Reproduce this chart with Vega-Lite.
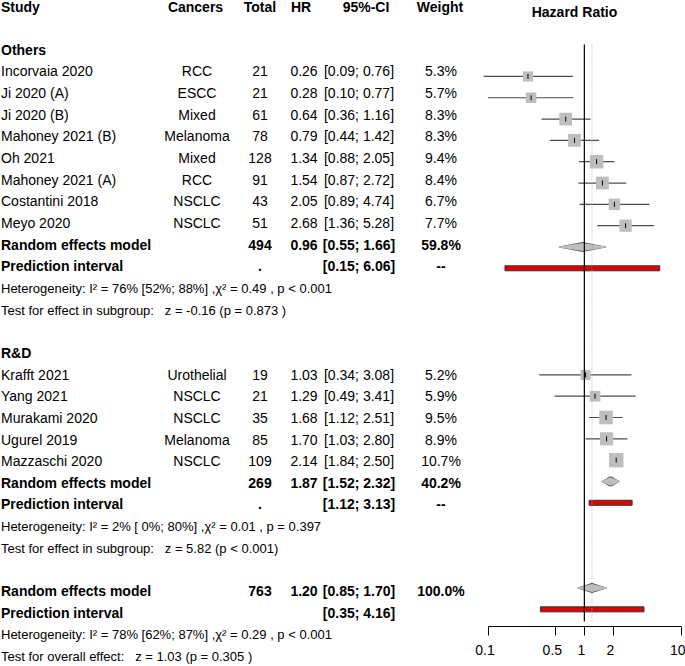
{
  "$schema": "https://vega.github.io/schema/vega-lite/v6.json",
  "padding": 0,
  "background": "white",
  "spacing": 0,
  "bounds": "flush",
  "config": {
    "view": {"stroke": null},
    "font": "Liberation Sans",
    "text": {"font": "Liberation Sans", "fontSize": 14, "color": "black"}
  },
  "datasets": {
    "table": [
      {"row": 0, "kind": "header", "study": "Study", "cancers": "Cancers", "total": "Total", "hr": "HR", "ci": "95%-CI", "weight": "Weight", "plot": "Hazard Ratio"},
      {"row": 2, "kind": "group", "study": "Others"},
      {"row": 3, "kind": "study", "study": "Incorvaia 2020", "cancers": "RCC", "total": "21", "hr": "0.26", "ci": "[0.09; 0.76]", "weight": "5.3%", "est": 0.26, "lower": 0.09, "upper": 0.76, "w": 5.3},
      {"row": 4, "kind": "study", "study": "Ji 2020 (A)", "cancers": "ESCC", "total": "21", "hr": "0.28", "ci": "[0.10; 0.77]", "weight": "5.7%", "est": 0.28, "lower": 0.10, "upper": 0.77, "w": 5.7},
      {"row": 5, "kind": "study", "study": "Ji 2020 (B)", "cancers": "Mixed", "total": "61", "hr": "0.64", "ci": "[0.36; 1.16]", "weight": "8.3%", "est": 0.64, "lower": 0.36, "upper": 1.16, "w": 8.3},
      {"row": 6, "kind": "study", "study": "Mahoney 2021 (B)", "cancers": "Melanoma", "total": "78", "hr": "0.79", "ci": "[0.44; 1.42]", "weight": "8.3%", "est": 0.79, "lower": 0.44, "upper": 1.42, "w": 8.3},
      {"row": 7, "kind": "study", "study": "Oh 2021", "cancers": "Mixed", "total": "128", "hr": "1.34", "ci": "[0.88; 2.05]", "weight": "9.4%", "est": 1.34, "lower": 0.88, "upper": 2.05, "w": 9.4},
      {"row": 8, "kind": "study", "study": "Mahoney 2021 (A)", "cancers": "RCC", "total": "91", "hr": "1.54", "ci": "[0.87; 2.72]", "weight": "8.4%", "est": 1.54, "lower": 0.87, "upper": 2.72, "w": 8.4},
      {"row": 9, "kind": "study", "study": "Costantini 2018", "cancers": "NSCLC", "total": "43", "hr": "2.05", "ci": "[0.89; 4.74]", "weight": "6.7%", "est": 2.05, "lower": 0.89, "upper": 4.74, "w": 6.7},
      {"row": 10, "kind": "study", "study": "Meyo 2020", "cancers": "NSCLC", "total": "51", "hr": "2.68", "ci": "[1.36; 5.28]", "weight": "7.7%", "est": 2.68, "lower": 1.36, "upper": 5.28, "w": 7.7},
      {"row": 11, "kind": "summary", "study": "Random effects model", "total": "494", "hr": "0.96", "ci": "[0.55; 1.66]", "weight": "59.8%", "est": 0.96, "lower": 0.55, "upper": 1.66},
      {"row": 12, "kind": "pi", "study": "Prediction interval", "total": ".", "ci": "[0.15; 6.06]", "weight": "--", "lower": 0.15, "upper": 6.06},
      {"row": 13, "kind": "het", "study": "Heterogeneity:  I² = 76% [52%; 88%] ,χ² = 0.49 , p < 0.001"},
      {"row": 14, "kind": "het", "study": "Test for effect in subgroup:\u00a0\u00a0\u00a0z = -0.16 (p = 0.873\u00a0)"},
      {"row": 16, "kind": "group", "study": "R&D"},
      {"row": 17, "kind": "study", "study": "Krafft 2021", "cancers": "Urothelial", "total": "19", "hr": "1.03", "ci": "[0.34; 3.08]", "weight": "5.2%", "est": 1.03, "lower": 0.34, "upper": 3.08, "w": 5.2},
      {"row": 18, "kind": "study", "study": "Yang 2021", "cancers": "NSCLC", "total": "21", "hr": "1.29", "ci": "[0.49; 3.41]", "weight": "5.9%", "est": 1.29, "lower": 0.49, "upper": 3.41, "w": 5.9},
      {"row": 19, "kind": "study", "study": "Murakami 2020", "cancers": "NSCLC", "total": "35", "hr": "1.68", "ci": "[1.12; 2.51]", "weight": "9.5%", "est": 1.68, "lower": 1.12, "upper": 2.51, "w": 9.5},
      {"row": 20, "kind": "study", "study": "Ugurel 2019", "cancers": "Melanoma", "total": "85", "hr": "1.70", "ci": "[1.03; 2.80]", "weight": "8.9%", "est": 1.70, "lower": 1.03, "upper": 2.80, "w": 8.9},
      {"row": 21, "kind": "study", "study": "Mazzaschi 2020", "cancers": "NSCLC", "total": "109", "hr": "2.14", "ci": "[1.84; 2.50]", "weight": "10.7%", "est": 2.14, "lower": 1.84, "upper": 2.50, "w": 10.7},
      {"row": 22, "kind": "summary", "study": "Random effects model", "total": "269", "hr": "1.87", "ci": "[1.52; 2.32]", "weight": "40.2%", "est": 1.87, "lower": 1.52, "upper": 2.32},
      {"row": 23, "kind": "pi", "study": "Prediction interval", "total": ".", "ci": "[1.12; 3.13]", "weight": "--", "lower": 1.12, "upper": 3.13},
      {"row": 24, "kind": "het", "study": "Heterogeneity:  I² = 2% [ 0%; 80%] ,χ² = 0.01 , p = 0.397"},
      {"row": 25, "kind": "het", "study": "Test for effect in subgroup:\u00a0\u00a0\u00a0z = 5.82 (p < 0.001)"},
      {"row": 27, "kind": "summary", "study": "Random effects model", "total": "763", "hr": "1.20", "ci": "[0.85; 1.70]", "weight": "100.0%", "est": 1.20, "lower": 0.85, "upper": 1.70},
      {"row": 28, "kind": "pi", "study": "Prediction interval", "ci": "[0.35; 4.16]", "lower": 0.35, "upper": 4.16},
      {"row": 29, "kind": "het", "study": "Heterogeneity:  I² = 78% [62%; 87%] ,χ² = 0.29 , p < 0.001"},
      {"row": 30, "kind": "het", "study": "Test for overall effect:\u00a0\u00a0\u00a0z = 1.03 (p = 0.305\u00a0)"}
    ]
  },
  "data": {"name": "table"},
  "hconcat": [
    {
      "width": 160, "height": 666,
      "encoding": {"y": {"field": "row", "type": "quantitative", "scale": {"domain": [0, 30], "range": [7.5, 657], "nice": false, "zero": false}, "axis": null}},
      "layer": [
        {"transform": [{"filter": "datum.kind === 'study'"}], "mark": {"type": "text", "align": "left", "dx": 1}, "encoding": {"x": {"value": 0}, "text": {"field": "study"}}},
        {"transform": [{"filter": "datum.kind === 'header' || datum.kind === 'group' || datum.kind === 'summary' || datum.kind === 'pi'"}], "mark": {"type": "text", "align": "left", "dx": 1, "fontWeight": "bold"}, "encoding": {"x": {"value": 0}, "text": {"field": "study"}}},
        {"transform": [{"filter": "datum.kind === 'het'"}], "mark": {"type": "text", "align": "left", "dx": 1, "fontSize": 13}, "encoding": {"x": {"value": 0}, "text": {"field": "study"}}}
      ]
    },
    {
      "width": 74, "height": 666,
      "encoding": {"y": {"field": "row", "type": "quantitative", "scale": {"domain": [0, 30], "range": [7.5, 657], "nice": false, "zero": false}, "axis": null}, "text": {"field": "cancers"}},
      "layer": [
        {"transform": [{"filter": "datum.kind === 'study' && isValid(datum.cancers)"}], "mark": {"type": "text"}},
        {"transform": [{"filter": "datum.kind === 'header'"}], "mark": {"type": "text", "fontWeight": "bold", "dx": -1.5}}
      ]
    },
    {
      "width": 52, "height": 666,
      "encoding": {"y": {"field": "row", "type": "quantitative", "scale": {"domain": [0, 30], "range": [7.5, 657], "nice": false, "zero": false}, "axis": null}, "text": {"field": "total"}},
      "layer": [
        {"transform": [{"filter": "datum.kind === 'study' && isValid(datum.total)"}], "mark": {"type": "text"}},
        {"transform": [{"filter": "(datum.kind === 'summary' || datum.kind === 'pi') && isValid(datum.total)"}], "mark": {"type": "text", "fontWeight": "bold"}},
        {"transform": [{"filter": "datum.kind === 'header'"}], "mark": {"type": "text", "fontWeight": "bold"}}
      ]
    },
    {
      "width": 36, "height": 666,
      "encoding": {"y": {"field": "row", "type": "quantitative", "scale": {"domain": [0, 30], "range": [7.5, 657], "nice": false, "zero": false}, "axis": null}, "text": {"field": "hr"}},
      "layer": [
        {"transform": [{"filter": "datum.kind === 'study' && isValid(datum.hr)"}], "mark": {"type": "text"}},
        {"transform": [{"filter": "(datum.kind === 'summary' || datum.kind === 'pi') && isValid(datum.hr)"}], "mark": {"type": "text", "fontWeight": "bold"}},
        {"transform": [{"filter": "datum.kind === 'header'"}], "mark": {"type": "text", "fontWeight": "bold", "dx": -3}}
      ]
    },
    {
      "width": 74, "height": 666,
      "encoding": {"y": {"field": "row", "type": "quantitative", "scale": {"domain": [0, 30], "range": [7.5, 657], "nice": false, "zero": false}, "axis": null}, "text": {"field": "ci"}},
      "layer": [
        {"transform": [{"filter": "datum.kind === 'study' && isValid(datum.ci)"}], "mark": {"type": "text"}},
        {"transform": [{"filter": "(datum.kind === 'summary' || datum.kind === 'pi') && isValid(datum.ci)"}], "mark": {"type": "text", "fontWeight": "bold"}},
        {"transform": [{"filter": "datum.kind === 'header'"}], "mark": {"type": "text", "fontWeight": "bold", "dx": 7}}
      ]
    },
    {
      "width": 90, "height": 666,
      "encoding": {"y": {"field": "row", "type": "quantitative", "scale": {"domain": [0, 30], "range": [7.5, 657], "nice": false, "zero": false}, "axis": null}, "text": {"field": "weight"}},
      "layer": [
        {"transform": [{"filter": "datum.kind === 'study' && isValid(datum.weight)"}], "mark": {"type": "text"}},
        {"transform": [{"filter": "(datum.kind === 'summary' || datum.kind === 'pi') && isValid(datum.weight)"}], "mark": {"type": "text", "fontWeight": "bold"}},
        {"transform": [{"filter": "datum.kind === 'header'"}], "mark": {"type": "text", "fontWeight": "bold", "dx": -1}}
      ]
    },
    {
      "width": 199, "height": 626,
      "encoding": {"y": {"field": "row", "type": "quantitative", "scale": {"domain": [0, 30], "range": [7.5, 657], "nice": false, "zero": false}, "axis": null}},
      "layer": [
        {"transform": [{"filter": "datum.kind === 'header'"}], "mark": {"type": "text", "fontWeight": "bold", "dx": -11}, "encoding": {"text": {"field": "plot"}}},
        {"transform": [{"filter": "datum.kind === 'study'"}], "mark": {"type": "rule", "color": "#4d4d4d", "strokeWidth": 1.2},
         "encoding": {"x": {"field": "lower", "type": "quantitative", "title": null, "scale": {"type": "log", "domain": [0.1, 10], "range": [2, 194.7], "nice": false, "zero": false},
                            "axis": {"values": [0.1, 0.5, 1, 2, 10], "format": "~g", "title": null, "grid": false, "domainColor": "black", "tickColor": "black", "tickSize": 9, "labelFont": "Liberation Sans", "labelFontSize": 14, "labelColor": "black", "labelPadding": 8, "labelFlush": false, "labelOffset": -3.5, "labelOverlap": false, "domainWidth": 1, "tickWidth": 1}},
                      "x2": {"field": "upper"}}},
        {"transform": [{"filter": "datum.kind === 'study'"}], "mark": {"type": "point", "shape": "square", "filled": true, "color": "#bebebe", "opacity": 1, "strokeWidth": 0},
         "encoding": {"x": {"field": "est", "type": "quantitative", "title": null}, "size": {"field": "w", "type": "quantitative", "scale": {"domain": [0, 10], "range": [0, 195]}, "legend": null}}},
        {"transform": [{"filter": "datum.kind === 'summary'"}, {"fold": ["lower", "est", "upper"], "as": ["vertex", "xv"]}], "mark": {"type": "trail", "color": "#555555", "opacity": 1},
         "encoding": {"x": {"field": "xv", "type": "quantitative", "title": null}, "detail": {"field": "row", "type": "nominal"}, "order": {"field": "xv", "type": "quantitative"},
                      "size": {"condition": {"test": "datum.vertex === 'est'", "value": 10}, "value": 0}}},
        {"transform": [{"filter": "datum.kind === 'summary'"}, {"fold": ["lower", "est", "upper"], "as": ["vertex", "xv"]}], "mark": {"type": "trail", "color": "#bebebe", "opacity": 1},
         "encoding": {"x": {"field": "xv", "type": "quantitative", "title": null}, "detail": {"field": "row", "type": "nominal"}, "order": {"field": "xv", "type": "quantitative"},
                      "size": {"condition": {"test": "datum.vertex === 'est'", "value": 8}, "value": 0}}},
        {"transform": [{"filter": "datum.kind === 'pi'"}], "mark": {"type": "bar", "height": 5, "fill": "#e00000", "stroke": "#333333", "strokeWidth": 1},
         "encoding": {"x": {"field": "lower", "type": "quantitative", "title": null}, "x2": {"field": "upper"}}},
        {"transform": [{"filter": "datum.kind === 'header'"}], "mark": {"type": "rule", "color": "black", "strokeWidth": 1.2},
         "encoding": {"x": {"datum": 1, "type": "quantitative", "title": null}, "y": {"datum": 1.5, "type": "quantitative"}, "y2": {"datum": 28.57}}},
        {"transform": [{"filter": "datum.kind === 'header'"}], "mark": {"type": "rule", "color": "#a8a8a8", "strokeWidth": 1, "strokeDash": [1, 2]},
         "encoding": {"x": {"datum": 1.2, "type": "quantitative", "title": null}, "y": {"datum": 1.5, "type": "quantitative"}, "y2": {"datum": 28.57}}},
        {"transform": [{"filter": "datum.kind === 'study'"}], "mark": {"type": "point", "shape": "M0,-1L0,1", "size": 25, "filled": false, "stroke": "black", "strokeWidth": 1, "opacity": 1},
         "encoding": {"x": {"field": "est", "type": "quantitative", "title": null}}}
      ]
    }
  ]
}
